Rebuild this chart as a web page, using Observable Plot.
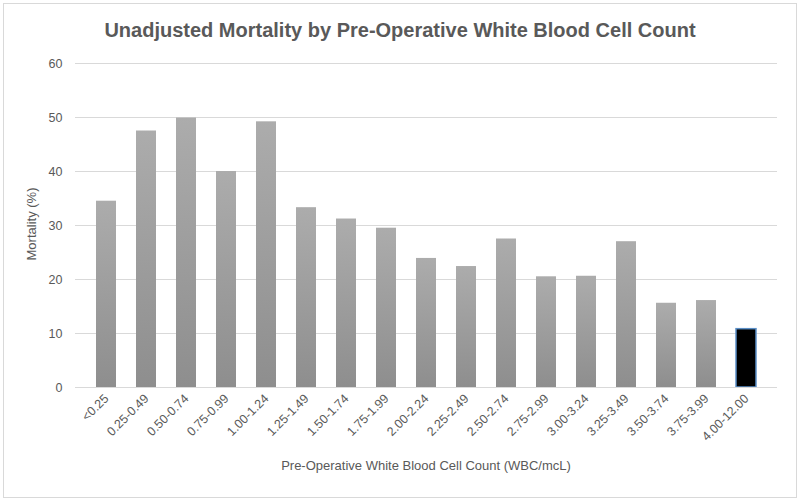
<!DOCTYPE html>
<html>
<head>
<meta charset="utf-8">
<script src="https://cdn.jsdelivr.net/npm/d3@7"></script>
<script src="https://cdn.jsdelivr.net/npm/@observablehq/plot@0.6"></script>
<style>
  body { margin: 0; background: #fff; }
  #wrap { position: relative; width: 800px; height: 501px; overflow: hidden; font-family: "Liberation Sans", "DejaVu Sans", sans-serif; }
  #frame { position: absolute; left: 3px; top: 3px; width: 792px; height: 493px; border: 1px solid #d9d9d9; pointer-events: none; }
  #title { position: absolute; left: 0; width: 800px; top: 19px; text-align: center; font-size: 20px; font-weight: bold; color: #595959; }
  #xlabel { position: absolute; left: 75px; width: 702px; top: 458px; text-align: center; font-size: 13px; color: #595959; }
  #ylabel { position: absolute; left: 31px; top: 224px; transform: translate(-50%, -50%) rotate(-90deg); font-size: 13px; color: #595959; white-space: nowrap; }
  #chart { position: absolute; left: 0; top: 0; }
</style>
</head>
<body>
<div id="wrap">
  <div id="chart"></div>
  <div id="title">Unadjusted Mortality by Pre-Operative White Blood Cell Count</div>
  <div id="ylabel">Mortality (%)</div>
  <div id="xlabel">Pre-Operative White Blood Cell Count (WBC/mcL)</div>
  <div id="frame"></div>
</div>
<script>
const categories = ["<0.25","0.25-0.49","0.50-0.74","0.75-0.99","1.00-1.24","1.25-1.49","1.50-1.74","1.75-1.99","2.00-2.24","2.25-2.49","2.50-2.74","2.75-2.99","3.00-3.24","3.25-3.49","3.50-3.74","3.75-3.99","4.00-12.00"];
const mortality = [34.5, 47.5, 49.9, 40.0, 49.2, 33.3, 31.2, 29.5, 23.9, 22.4, 27.5, 20.5, 20.6, 27.0, 15.6, 16.1, 10.8];
const highlighted = ["4.00-12.00"];
const yTicks = [0, 10, 20, 30, 40, 50, 60];

const data = categories.map((c, i) => ({category: c, value: mortality[i], hi: highlighted.includes(c)}));

const plot = Plot.plot({
  width: 800,
  height: 501,
  marginTop: 63,
  marginBottom: 114,
  marginLeft: 75,
  marginRight: 23,
  style: {fontFamily: "'Liberation Sans', 'DejaVu Sans', sans-serif", fontSize: "12.5px", color: "#595959", background: "transparent"},
  x: {domain: categories, padding: 0.49, label: null, tickSize: 0, tickPadding: 9, tickRotate: -45},
  y: {domain: [0, 60], ticks: yTicks, label: null, tickSize: 0, tickPadding: 13},
  marks: [
    Plot.gridY(yTicks, {stroke: "#d9d9d9", strokeOpacity: 1}),
    Plot.barY(data.filter(d => !d.hi), {x: "category", y: "value", fill: "url(#barGrad)"}),
    Plot.barY(data.filter(d => d.hi), {x: "category", y: "value", fill: "#000000", stroke: "#5b8fc7", strokeWidth: 1.5}),
    Plot.ruleY([0], {stroke: "#d9d9d9", strokeWidth: 1.2})
  ]
});

const svg = d3.select(plot);
const defs = svg.insert("defs", ":first-child");
const g = defs.append("linearGradient").attr("id", "barGrad").attr("x1", 0).attr("y1", 0).attr("x2", 0).attr("y2", 1);
g.append("stop").attr("offset", "0%").attr("stop-color", "#acacac");
g.append("stop").attr("offset", "100%").attr("stop-color", "#8e8e8e");
document.getElementById("chart").appendChild(plot);
</script>
</body>
</html>
